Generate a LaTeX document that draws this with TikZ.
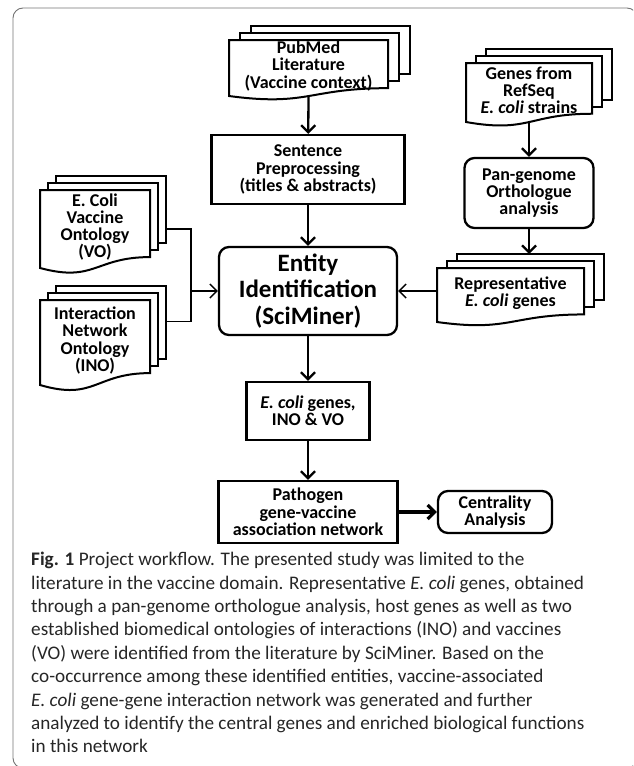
\documentclass[tikz,border=0pt]{standalone}
\usepackage{fontspec}
\setmainfont{Carlito}
\usetikzlibrary{arrows.meta,backgrounds}

\newcommand{\boxfont}{\fontsize{18}{17.3}\selectfont\bfseries}
\newcommand{\bigfont}{\fontsize{25}{26.5}\selectfont\bfseries}
\newcommand{\capfont}{\fontsize{19.2}{23.4}\selectfont}

\tikzset{
  box/.style={draw,line width=2.3pt,fill=white,align=center,inner sep=0pt,font=\boxfont},
  rbox/.style={box,rounded corners=10pt},
  docnode/.style={align=center,inner sep=0pt,font=\boxfont},
  sheet/.style={draw,line width=2pt,fill=white},
  flow/.style={line width=2.3pt,-{Straight Barb[length=7pt,width=14pt]}},
  thinflow/.style={line width=1.4pt,-{Straight Barb[length=7pt,width=14pt]}},
  link/.style={line width=1.4pt},
  frame/.style={draw=black!55,line width=0.9pt,rounded corners=10pt}
}

% stacked documents: name, left, top, right, bottom of wave, sheet offset, text
\newcommand{\docstack}[7]{%
  \begin{scope}[on background layer]
    \draw[sheet] ({#2+2*#6},#3-14) rectangle ({#4+2*#6},{#3+0.86*(#5-#3)-14});
    \draw[sheet] ({#2+#6},#3-7) rectangle ({#4+#6},{#3+0.86*(#5-#3)-7});
    \draw[sheet] (#2,#3) -- (#4,#3) -- (#4,{#3+0.86*(#5-#3)})
      .. controls ({(#2+#4)/2},{#3+0.86*(#5-#3)}) and ({(#2+#4)/2},{#3+1.19*(#5-#3)}) .. (#2,#5) -- cycle;
  \end{scope}
  \node[docnode,minimum width={(#4-#2)*1pt},minimum height={(#5-#3-4)*1pt}] (#1) at ({(#2+#4)/2},{(#3+#5)/2-2}) {#7};
  \coordinate (#1-wave) at ({(#2+#4)/2},#5);
  \coordinate (#1-top) at ({(#2+#4)/2+2*#6},#3-14);
  \coordinate (#1-right) at ({#4+2*#6},{(#3+#5)/2});
}

\begin{document}
\begin{tikzpicture}[x=1pt,y=-1pt]
\useasboundingbox (0,0) rectangle (633,766);
\clip (0,0) rectangle (633,766);
\draw[frame] (13,8) rectangle (637,768);

\docstack{pub}{229}{40}{388}{96}{11}{PubMed\\Literature\\(Vaccine context)}
\docstack{genes}{466}{63}{592}{122}{10}{Genes from\\RefSeq\\\textit{E. coli} strains}
\docstack{rep}{437}{268}{584}{322}{10}{Representative\\\textit{E. coli} genes}
\docstack{vo}{40}{190}{150}{268}{8}{E. Coli\\Vaccine\\Ontology\\(VO)}
\docstack{ino}{40}{300}{150}{385}{8}{Interaction\\Network\\Ontology\\(INO)}

\node[box,minimum width=193pt,minimum height=69pt] (sent) at (308,169.5) {Sentence\\Preprocessing\\(titles \& abstracts)};
\node[rbox,font=\bigfont,minimum width=178pt,minimum height=88pt] (ent) at (308,291) {Entity\\Identification\\(SciMiner)};
\node[box,minimum width=123pt,minimum height=58pt] (ecoli) at (308,411) {\textit{E. coli} genes,\\INO \& VO};
\node[box,minimum width=179pt,minimum height=62pt] (path) at (308,512) {Pathogen\\gene-vaccine\\association network};
\node[rbox,minimum width=114pt,minimum height=42pt] (cent) at (495,512) {Centrality\\Analysis};
\node[rbox,minimum width=129pt,minimum height=70pt] (pan) at (529,193) {Pan-genome\\Orthologue\\analysis};

\draw[flow] (pub-wave) -- (sent);
\draw[flow] (sent) -- (ent);
\draw[flow] (ent) -- (ecoli);
\draw[flow] (ecoli) -- (path);
\draw[flow,line width=3.2pt] (path) -- (cent);
\draw[flow] (genes-wave) -- (pan);
\draw[flow] (pan) -- (pan |- rep-top);
\draw[thinflow] (rep.west |- ent) -- (ent);
\coordinate (join) at ([xshift=-27pt]ent.west);
\draw[link] (vo-right) -| (join) |- ([yshift=21pt]ino-right);
\draw[thinflow] (join) -- (ent);

\node[anchor=north west,align=left,inner sep=0pt,font=\capfont,text=black!85] (cap) at (31,552) {\textbf{Fig. 1} Project workflow. The presented study was limited to the\\
literature in the vaccine domain. Representative \textit{E. coli} genes, obtained\\
through a pan-genome orthologue analysis, host genes as well as two\\
established biomedical ontologies of interactions (INO) and vaccines\\
(VO) were identified from the literature by SciMiner. Based on the\\
co-occurrence among these identified entities, vaccine-associated\\
\textit{E. coli} gene-gene interaction network was generated and further\\
analyzed to identify the central genes and enriched biological functions\\
in this network};
\end{tikzpicture}
\end{document}
